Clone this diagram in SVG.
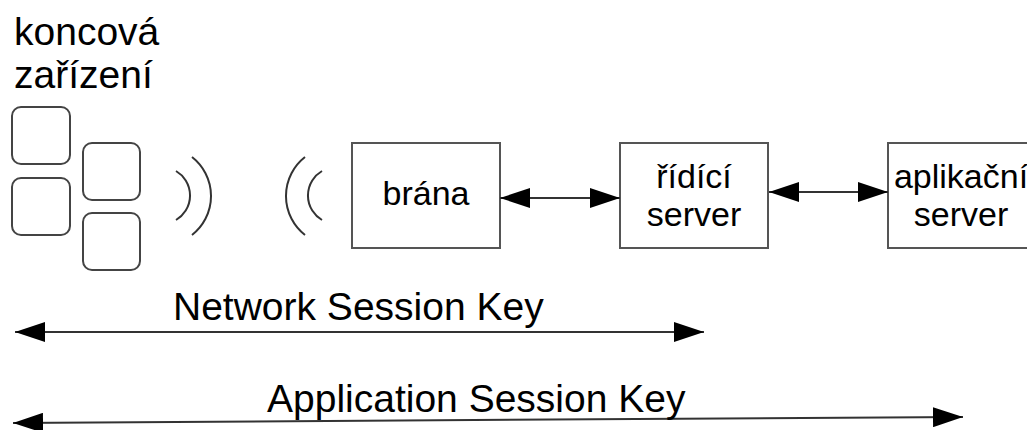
<svg xmlns="http://www.w3.org/2000/svg" width="1027" height="430" viewBox="0 0 1027 430">
<style>
.t{font-family:"Liberation Sans",Arial,sans-serif;fill:#000}
.big{font-size:39px}
.lbl{font-size:34px;text-anchor:middle}
.dev{fill:#fff;stroke:#444;stroke-width:2}
.box{fill:#fff;stroke:#555;stroke-width:2}
.arc{fill:none;stroke:#333;stroke-width:2}
.con{fill:none;stroke:#333;stroke-width:2}
</style>
<defs>
<marker id="ah" markerUnits="userSpaceOnUse" markerWidth="30" markerHeight="20" refX="30" refY="10" orient="auto-start-reverse" viewBox="0 0 30 20">
<path d="M0,0 L30,10 L0,20 z" fill="#000"/>
</marker>
</defs>
<rect width="1027" height="430" fill="#fff"/>
<g id="koncova-zarizeni">
<text class="t big" x="14" y="45">koncová</text>
<text class="t big" x="14" y="88">zařízení</text>
<rect class="dev" x="12" y="107" width="58" height="57" rx="9"/>
<rect class="dev" x="12" y="178" width="58" height="57" rx="9"/>
<rect class="dev" x="83" y="143" width="57" height="57" rx="9"/>
<rect class="dev" x="83" y="213" width="57" height="57" rx="9"/>
<path class="arc" d="M176,171 A28.4,28.4 0 0 1 176,220"/>
<path class="arc" d="M192,157 A49.5,49.5 0 0 1 192,235"/>
</g>
<g id="brana">
<path class="arc" d="M305,157 A49.5,49.5 0 0 0 305,235"/>
<path class="arc" d="M322,171 A28.4,28.4 0 0 0 322,220"/>
<rect class="box" x="352" y="143" width="148" height="105"/>
<text class="t lbl" x="426" y="205">brána</text>
</g>
<g id="ridici-server">
<rect class="box" x="620" y="143" width="148" height="105"/>
<text class="t lbl" x="694" y="188">řídící</text>
<text class="t lbl" x="694" y="226">server</text>
</g>
<g id="aplikacni-server">
<rect class="box" x="888" y="143" width="148" height="105"/>
<text class="t lbl" x="961" y="188">aplikační</text>
<text class="t lbl" x="961" y="226">server</text>
</g>
<g id="connectors">
<line class="con" x1="500" y1="198" x2="620" y2="198" marker-start="url(#ah)" marker-end="url(#ah)"/>
<line class="con" x1="769" y1="192" x2="888" y2="192" marker-start="url(#ah)" marker-end="url(#ah)"/>
<line class="con" x1="15" y1="332" x2="704" y2="332" marker-start="url(#ah)" marker-end="url(#ah)"/>
<line class="con" x1="13" y1="423" x2="963" y2="417" marker-start="url(#ah)" marker-end="url(#ah)"/>
</g>
<g id="keys">
<text class="t big" x="173" y="320">Network Session Key</text>
<text class="t big" x="267" y="412">Application Session Key</text>
</g>
</svg>
